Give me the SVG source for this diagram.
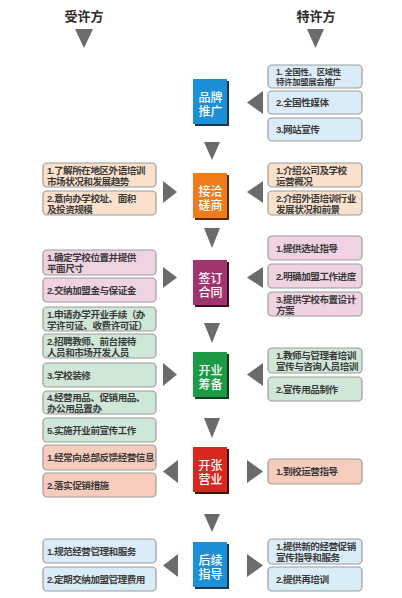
<svg xmlns="http://www.w3.org/2000/svg" width="402" height="598" viewBox="0 0 402 598">
<style>
.bg{fill:#ffffff}
.box{stroke:#9c9c9c;stroke-width:1.2}
.blue{fill:#dbecf9}
.peach{fill:#fbe1cb}
.pink{fill:#f0d3e3}
.green{fill:#cfe7d7}
.salmon{fill:#f7ccbd}
.t{font-family:"Liberation Sans","Noto Sans CJK SC",sans-serif;font-size:9.6px;letter-spacing:-0.5px;fill:#3a3a3a;font-weight:600}
.ts{font-size:8.4px;letter-spacing:-0.3px}
.c{font-family:"Liberation Sans","Noto Sans CJK SC",sans-serif;font-size:12px;fill:#ffffff;text-anchor:middle;font-weight:500}
.h{font-family:"Noto Sans CJK SC","Noto Sans",sans-serif;font-size:13px;fill:#2a2a2a;text-anchor:middle;font-weight:700}
.arr{fill:#6b6b6b}
</style>
<rect class="bg" x="0" y="0" width="402" height="598"/>

<g id="header-left"><text class="h" x="84" y="21">受许方</text></g>
<g id="header-right"><text class="h" x="316" y="21">特许方</text></g>

<g id="connectors">
  <polygon class="arr" points="75,29 93,29 84,48"/>
  <polygon class="arr" points="307,29 324,29 315.5,48"/>
  <polygon class="arr" points="204,142 220,142 212,160"/>
  <polygon class="arr" points="204,228 220,228 212,248"/>
  <polygon class="arr" points="204,323 220,323 212,343"/>
  <polygon class="arr" points="204,418 220,418 212,438"/>
  <polygon class="arr" points="204,514 220,514 212,532"/>
  <polygon class="arr" points="263,91 263,114 247,102.5"/>
  <polygon class="arr" points="163,181 163,203 177,192"/>
  <polygon class="arr" points="263,181 263,203 247,192"/>
  <polygon class="arr" points="163,267 163,288 177,277.5"/>
  <polygon class="arr" points="263,267 263,288 247,277.5"/>
  <polygon class="arr" points="163,363 163,386 177,374.5"/>
  <polygon class="arr" points="263,363 263,386 247,374.5"/>
  <polygon class="arr" points="178,460 178,483 163,471.5"/>
  <polygon class="arr" points="247,460 247,483 263,471.5"/>
  <polygon class="arr" points="178,554 178,577 163,565.5"/>
  <polygon class="arr" points="247,554 247,577 263,565.5"/>
</g>

<g id="step1-brand">
  <rect x="195" y="81" width="34" height="45" fill="#1c3550"/>
  <rect x="193" y="79" width="34" height="45" fill="#1b8fd8"/>
  <text class="c" x="210.5" y="101.5">品牌<tspan x="210.5" dy="14">推广</tspan></text>
</g>
<g id="step2-negotiate">
  <rect x="195" y="175" width="34" height="45" fill="#5a2a08"/>
  <rect x="193" y="173" width="34" height="45" fill="#ee7c1b"/>
  <text class="c" x="210.5" y="195.5">接洽<tspan x="210.5" dy="14">磋商</tspan></text>
</g>
<g id="step3-contract">
  <rect x="195" y="262" width="34" height="45" fill="#3d1029"/>
  <rect x="193" y="260" width="34" height="45" fill="#a1336f"/>
  <text class="c" x="210.5" y="282.5">签订<tspan x="210.5" dy="14">合同</tspan></text>
</g>
<g id="step4-prepare">
  <rect x="195" y="354" width="34" height="45" fill="#0f3d1e"/>
  <rect x="193" y="352" width="34" height="45" fill="#1c9a46"/>
  <text class="c" x="210.5" y="374.5">开业<tspan x="210.5" dy="14">筹备</tspan></text>
</g>
<g id="step5-open">
  <rect x="195" y="449" width="34" height="45" fill="#4a0d0a"/>
  <rect x="193" y="447" width="34" height="45" fill="#d9261f"/>
  <text class="c" x="210.5" y="469.5">开张<tspan x="210.5" dy="14">营业</tspan></text>
</g>
<g id="step6-follow">
  <rect x="195" y="544" width="34" height="45" fill="#1c3550"/>
  <rect x="193" y="542" width="34" height="45" fill="#1b8fd8"/>
  <text class="c" x="210.5" y="564.5">后续<tspan x="210.5" dy="14">指导</tspan></text>
</g>

<g id="r1a"><rect class="box blue" x="268" y="65" width="94" height="23" rx="4"/>
  <text class="t ts" x="276" y="75">1. 全国性、区域性<tspan x="276" dy="10">特许加盟展会推广</tspan></text></g>
<g id="r1b"><rect class="box blue" x="268" y="91" width="94" height="23" rx="4"/>
  <text class="t" x="276" y="106">2.全国性媒体</text></g>
<g id="r1c"><rect class="box blue" x="268" y="118" width="94" height="23" rx="4"/>
  <text class="t" x="276" y="133">3.网站宣传</text></g>

<g id="r2a"><rect class="box peach" x="268" y="163" width="94" height="24" rx="4"/>
  <text class="t" x="276" y="173.5">1.介绍公司及学校<tspan x="276" dy="11">运营概况</tspan></text></g>
<g id="r2b"><rect class="box peach" x="268" y="191" width="94" height="24" rx="4"/>
  <text class="t" x="276" y="201.5">2.介绍外语培训行业<tspan x="276" dy="11">发展状况和前景</tspan></text></g>

<g id="r3a"><rect class="box pink" x="268" y="236" width="94" height="24" rx="4"/>
  <text class="t" x="276" y="251.5">1.提供选址指导</text></g>
<g id="r3b"><rect class="box pink" x="268" y="264" width="94" height="24" rx="4"/>
  <text class="t" x="276" y="279.5">2.明确加盟工作进度</text></g>
<g id="r3c"><rect class="box pink" x="268" y="292" width="94" height="24" rx="4"/>
  <text class="t" x="276" y="302.5">3.提供学校布置设计<tspan x="276" dy="11">方案</tspan></text></g>

<g id="r4a"><rect class="box green" x="268" y="348" width="94" height="25" rx="4"/>
  <text class="t" x="276" y="358.5">1.教师与管理者培训<tspan x="276" dy="11">宣传与咨询人员培训</tspan></text></g>
<g id="r4b"><rect class="box green" x="268" y="377" width="94" height="24" rx="4"/>
  <text class="t" x="276" y="392.5">2.宣传用品制作</text></g>

<g id="r5"><rect class="box salmon" x="268" y="459" width="94" height="25" rx="4"/>
  <text class="t" x="276" y="475">1.到校运营指导</text></g>

<g id="r6a"><rect class="box blue" x="268" y="539" width="94" height="25" rx="4"/>
  <text class="t" x="276" y="549.5">1.提供新的经营促销<tspan x="276" dy="11">宣传指导和服务</tspan></text></g>
<g id="r6b"><rect class="box blue" x="268" y="567" width="94" height="24" rx="4"/>
  <text class="t" x="276" y="582.5">2.提供再培训</text></g>

<g id="l2a"><rect class="box peach" x="43" y="163" width="113" height="24" rx="4"/>
  <text class="t" x="47" y="173.5">1.了解所在地区外语培训<tspan x="47" dy="11">市场状况和发展趋势</tspan></text></g>
<g id="l2b"><rect class="box peach" x="43" y="191" width="113" height="24" rx="4"/>
  <text class="t" x="47" y="201.5">2.意向办学校址、面积<tspan x="47" dy="11">及投资规模</tspan></text></g>

<g id="l3a"><rect class="box pink" x="43" y="250" width="113" height="25" rx="4"/>
  <text class="t" x="47" y="260.5">1.确定学校位置并提供<tspan x="47" dy="11">平面尺寸</tspan></text></g>
<g id="l3b"><rect class="box pink" x="43" y="278" width="113" height="24" rx="4"/>
  <text class="t" x="47" y="293.5">2.交纳加盟金与保证金</text></g>

<g id="l4a"><rect class="box green" x="43" y="307" width="113" height="24" rx="4"/>
  <text class="t" x="47" y="317.5">1.申请办学开业手续（办<tspan x="47" dy="11">学许可证、收费许可证）</tspan></text></g>
<g id="l4b"><rect class="box green" x="43" y="334" width="113" height="24" rx="4"/>
  <text class="t" x="47" y="344.5">2.招聘教师、前台接待<tspan x="47" dy="11">人员和市场开发人员</tspan></text></g>
<g id="l4c"><rect class="box green" x="43" y="363" width="113" height="24" rx="4"/>
  <text class="t" x="47" y="378.5">3.学校装修</text></g>
<g id="l4d"><rect class="box green" x="43" y="391" width="113" height="23" rx="4"/>
  <text class="t" x="47" y="401">4.经营用品、促销用品、<tspan x="47" dy="11">办公用品置办</tspan></text></g>
<g id="l4e"><rect class="box green" x="43" y="418" width="113" height="24" rx="4"/>
  <text class="t" x="47" y="433.5">5.实施开业前宣传工作</text></g>

<g id="l5a"><rect class="box salmon" x="43" y="445" width="113" height="25" rx="4"/>
  <text class="t" x="47" y="461">1.经常向总部反馈经营信息</text></g>
<g id="l5b"><rect class="box salmon" x="43" y="473" width="113" height="24" rx="4"/>
  <text class="t" x="47" y="488.5">2.落实促销措施</text></g>

<g id="l6a"><rect class="box blue" x="43" y="539" width="113" height="24" rx="4"/>
  <text class="t" x="47" y="554.5">1.规范经营管理和服务</text></g>
<g id="l6b"><rect class="box blue" x="43" y="567" width="113" height="24" rx="4"/>
  <text class="t" x="47" y="582.5">2.定期交纳加盟管理费用</text></g>
</svg>
